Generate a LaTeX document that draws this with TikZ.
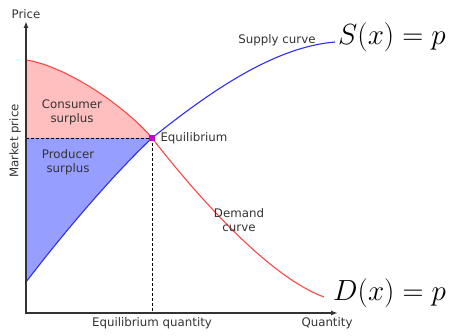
\documentclass[tikz,border=0pt]{standalone}
\usepackage{fontspec}
\setmainfont{DejaVu Sans}
\usetikzlibrary{arrows.meta,positioning,calc}
\definecolor{cspink}{RGB}{255,191,191}
\definecolor{psblue}{RGB}{150,158,255}
\definecolor{dcurve}{RGB}{255,70,70}
\definecolor{scurve}{RGB}{45,45,255}
\definecolor{eqmark}{RGB}{204,0,204}
\definecolor{labelgray}{RGB}{51,51,51}

\begin{document}
\begin{tikzpicture}[x=1pt, y=1pt,
  every node/.style={font=\fontsize{11.8}{14}\selectfont, text=labelgray},
  axis/.style={draw=labelgray, line width=1.6pt, {Latex[length=7pt,width=5pt]}-{Latex[length=7pt,width=5pt]}},
  guide/.style={line width=0.8pt, dash pattern=on 3pt off 2pt},
  curve/.style={line width=1.1pt},
  bigeq/.style={font=\Huge, text=black, anchor=west, inner sep=0pt, scale=1.17, transform shape},
]
\useasboundingbox (0,0) rectangle (452,335);
% key points (1pt = 1px of the target)
\coordinate (o) at (26,22);
\coordinate (ytip) at (26,314);
\coordinate (xtip) at (338,22);
\coordinate (eq) at (152,197);
\coordinate (dstart) at (26,275);
\coordinate (dend) at (324,38);
\coordinate (sstart) at (26,53);
\coordinate (send) at (335,293);
% Surplus areas
\fill[cspink] (eq -| o) -- (dstart) .. controls (66,269) and (125,229) .. (eq) -- cycle;
\fill[psblue] (eq -| o) -- (eq) .. controls (112,159) and (66,105) .. (sstart) -- cycle;
% Market price and equilibrium quantity
\draw[guide] (eq -| o) -- (eq);
\draw[guide] (eq) -- (eq |- o);
% Demand and supply
\draw[curve, dcurve] (dstart) .. controls (66,269) and (125,229) .. (eq)
  .. controls (187,152) and (264,60) .. (dend);
\draw[curve, scurve] (sstart) .. controls (66,105) and (112,159) .. (eq)
  .. controls (212,245) and (275,288) .. (send);
% Axes
\draw[axis] (ytip) -- (o) -- (xtip);
\node[fill=eqmark, minimum size=6.5pt, inner sep=0pt] (eqpt) at (eq) {};
% Labels
\node[above=-1pt of ytip] (price) {Price};
\node[rotate=90] (mprice) at (15,194) {Market price};
\node[anchor=west] (eqlabel) at (157,197) {Equilibrium};
\node (eqqty) at (152,12) {Equilibrium quantity};
\node (qty) at (327,12) {Quantity};
\node (slabel) at (277,295) {Supply curve};
\node[align=center] (dlabel) at (239,115) {Demand\\curve};
\node[align=center] (cons) at (72,223) {Consumer\\surplus};
\node[align=center] (prod) at (68,173) {Producer\\surplus};
\node[bigeq] (seq) at (338,298) {$S(x) = p$};
\node[bigeq] (deq) at (333,41.5) {$D(x) = p$};
\end{tikzpicture}
\end{document}
